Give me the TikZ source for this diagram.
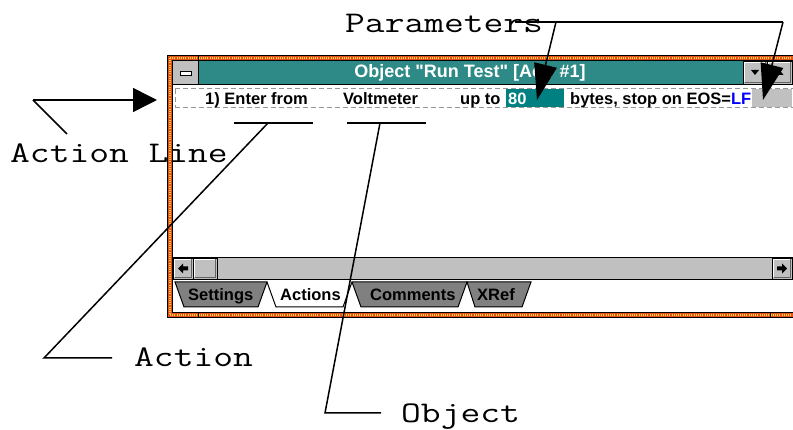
\documentclass[tikz,border=0pt]{standalone}
\usepackage{fontspec}
\newfontfamily\winfont{Liberation Sans}
\usetikzlibrary{arrows.meta}
\definecolor{titleteal}{RGB}{46,138,134}
\definecolor{boxteal}{RGB}{0,128,128}
\definecolor{wingrey}{RGB}{192,192,192}
\definecolor{tabgrey}{RGB}{128,128,128}
\definecolor{darkedge}{RGB}{100,100,100}
\definecolor{borderred}{RGB}{228,80,30}
\definecolor{borderyel}{RGB}{252,215,60}
\definecolor{dashgrey}{RGB}{150,150,150}
\definecolor{lfblue}{RGB}{0,0,255}
\newcommand\winbutton[4]{%
  \fill[wingrey] (#1,#2) rectangle (#3,#4);
  \draw[white,line width=1pt] (#1+1.5,#4-1.5) -- (#1+1.5,#2+1.5) -- (#3-1.5,#2+1.5);
  \draw[darkedge,line width=1pt] (#1+1.5,#4-1.5) -- (#3-1.5,#4-1.5) -- (#3-1.5,#2+1.5);
  \draw[black,line width=0.8pt] (#1,#2) rectangle (#3,#4);}
\newcommand\calltext[1]{\scalebox{1.28}[1]{#1}}
\begin{document}
\begin{tikzpicture}[x=1pt,y=-1pt,
  callout/.style={line width=1.5pt, black, line join=miter},
  calllabel/.style={font=\ttfamily\fontsize{30}{32}\selectfont, inner sep=0pt, anchor=base west},
  wintext/.style={font=\winfont\bfseries\fontsize{16.5}{18}\selectfont, inner sep=0pt, anchor=base west},
  bigtip/.style={-{Triangle[length=36pt,width=23pt]}},
  smalltip/.style={-{Triangle[length=24pt,width=24pt]}},
  tabshape/.style={fill=tabgrey, draw=black, line width=1pt},
  rowdash/.style={dashgrey, dash pattern=on 5pt off 3pt, line width=1pt}
]
\useasboundingbox (0,0) rectangle (793,430);
\fill[white] (0,0) rectangle (793,430);

\begin{scope}
\clip (0,0) rectangle (793,430);
% window frame
\fill[black] (167,55) rectangle (810,318);
\fill[borderred] (168,56) rectangle (810,317);
\draw[borderyel, line width=1.6pt, dash pattern=on 1pt off 1.2pt] (170,58) -- (810,58);
\draw[borderyel, line width=1.6pt, dash pattern=on 1pt off 1.2pt] (170,315) -- (810,315);
\draw[borderyel, line width=1.6pt, dash pattern=on 1pt off 1.2pt] (170,58) -- (170,315);
\draw[black, line width=1pt] (198,55) -- (198,60);
\draw[black, line width=1pt] (198,312) -- (198,318);
\draw[black, line width=1pt] (770,312) -- (770,318);
\fill[black] (172,60) rectangle (810,313);
\fill[white] (173,61) rectangle (810,312);

% title bar
\fill[wingrey] (173,61) rectangle (198,84);
\filldraw[fill=white, draw=black, line width=0.8pt] (180,71) rectangle (191,75);
\draw[black, line width=1pt] (198.5,61) -- (198.5,84);
\fill[titleteal] (199,61) rectangle (743,84);
\node[font=\winfont\bfseries\fontsize{18}{20}\selectfont, text=white, inner sep=0pt, anchor=base] (title) at (470,78) {Object "Run Test" [Act. \#1]};
\winbutton{743}{61}{767}{84}
\winbutton{767}{61}{792}{84}
\fill[black] (751,70) -- (759,70) -- (755,75) -- cycle;
\fill[black] (775.5,75) -- (783.5,75) -- (779.5,70) -- cycle;
\draw[black, line width=1pt] (173,84.5) -- (810,84.5);

% action line row
\draw[rowdash] (175,89) -- (810,89);
\draw[rowdash] (175,108) -- (810,108);
\draw[rowdash] (175,89) -- (175,108);
\node[wintext] (enter) at (205,105) {1) Enter from};
\node[wintext] (volt) at (343,105) {Voltmeter};
\node[wintext] (upto) at (460,105) {up to};
\fill[boxteal] (506,89) rectangle (564,107);
\node[wintext, text=white] (eighty) at (508,105) {80};
\node[wintext] (bytes) at (570,105) {bytes, stop on EOS=\textcolor{lfblue}{LF}};
\fill[wingrey] (752,89) rectangle (792,107);

% scrollbar
\fill[wingrey] (173,258) rectangle (792,279);
\draw[black, line width=1pt] (173,257.5) -- (810,257.5);
\draw[black, line width=1pt] (173,279.5) -- (810,279.5);
\winbutton{173}{258}{193}{279}
\winbutton{193}{258}{217}{279}
\winbutton{772}{258}{792}{279}
\fill[black] (178,268.5) -- (183,263.5) -- (183,266.5) -- (188,266.5) -- (188,270.5) -- (183,270.5) -- (183,273.5) -- cycle;
\fill[black] (787,268.5) -- (782,263.5) -- (782,266.5) -- (777,266.5) -- (777,270.5) -- (782,270.5) -- (782,273.5) -- cycle;

% tabs
\draw[tabshape] (175,282) -- (184,307) -- (258,307) -- (267,282) -- cycle;
\draw[tabshape] (352,282) -- (361,307) -- (458,307) -- (467,282) -- cycle;
\draw[tabshape] (467,282) -- (475,307) -- (522,307) -- (531,282) -- cycle;
\fill[white] (267,282) -- (276,307) -- (343,307) -- (352,282) -- cycle;
\draw[black, line width=1pt] (267,282) -- (276,307) -- (343,307) -- (352,282);
\node[wintext] (tabsettings) at (188,301) {Settings};
\node[wintext] (tabactions) at (280,301) {Actions};
\node[wintext] (tabcomments) at (370,301) {Comments};
\node[wintext] (tabxref) at (477,301) {XRef};
\end{scope}

% underlines
\coordinate (u1a) at (234,123); \coordinate (u1b) at (313,123);
\coordinate (u2a) at (347,123); \coordinate (u2b) at (426,123);
\draw[callout] (u1a) -- (u1b);
\draw[callout] (u2a) -- (u2b);

% labels
\node[calllabel] (params) at (345,33) {\calltext{Parameters}};
\node[calllabel] (actionline) at (10,163) {\calltext{Action Line}};
\node[calllabel] (action) at (134,367) {\calltext{Action}};
\node[calllabel] (object) at (401,423) {\calltext{Object}};

% Parameters callout
\coordinate (pbarl) at (515,22);
\coordinate (p1top) at (556,22);
\coordinate (p2top) at (783,22);
\coordinate (p1tip) at (537,100);
\coordinate (p2tip) at (763,100);
\draw[callout] (pbarl) -- (p2top);
\draw[callout, bigtip] (p1top) -- (p1tip);
\draw[callout, bigtip] (p2top) -- (p2tip);

% Action Line callout
\coordinate (altail) at (33,100);
\coordinate (altip) at (157,100);
\coordinate (alfoot) at (67,134);
\draw[callout, smalltip] (altail) -- (altip);
\draw[callout] (altail) -- (alfoot);

% Action callout
\coordinate (actstart) at (268,123);
\coordinate (actelbow) at (44,358);
\coordinate (actend) at (112,358);
\draw[callout] (actstart) -- (actelbow) -- (actend);

% Object callout
\coordinate (objstart) at (380,123);
\coordinate (objelbow) at (325,413);
\coordinate (objend) at (381,413);
\draw[callout] (objstart) -- (objelbow) -- (objend);
\end{tikzpicture}
\end{document}
